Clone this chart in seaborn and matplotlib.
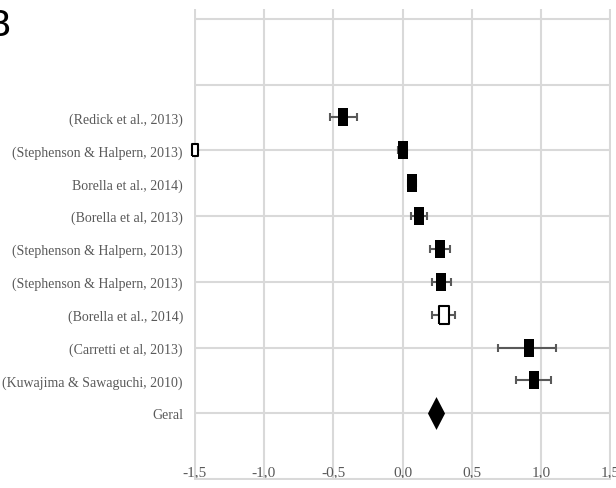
import numpy as np
import pandas as pd
import seaborn as sns
import matplotlib.pyplot as plt

# Studies listed top to bottom
studies = [
    "(Redick et al., 2013)",
    "(Stephenson & Halpern, 2013)",
    "Borella et al., 2014)",
    "(Borella et al, 2013)",
    "(Stephenson & Halpern, 2013)",
    "(Stephenson & Halpern, 2013)",
    "(Borella et al., 2014)",
    "(Carretti et al, 2013)",
    "(Kuwajima & Sawaguchi, 2010)",
]
effect = [-0.43, 0.00, 0.07, 0.12, 0.27, 0.28, 0.30, 0.91, 0.95]
ci_low = [-0.52, -0.03, 0.04, 0.06, 0.20, 0.21, 0.21, 0.69, 0.82]
ci_high = [-0.33, 0.03, 0.10, 0.18, 0.34, 0.35, 0.38, 1.11, 1.07]
hollow = [False, False, False, False, False, False, True, False, False]

# Off-scale estimate shown at the left edge of the scale (second study)
offscale_index = 1
offscale_effect = -1.50

overall_label = "Geral"
overall_effect = 0.24

x_ticks = [-1.5, -1.0, -0.5, 0.0, 0.5, 1.0, 1.5]
x_tick_labels = ["-1,5", "-1,0", "-0,5", "0,0", "0,5", "1,0", "1,5"]

sns.set_theme(style="white")
plt.rcParams["font.family"] = ["Liberation Serif", "DejaVu Serif"]

n = len(studies)
rows = np.arange(n + 2, 2, -1)          # 11 .. 3
overall_row = 2

df = pd.DataFrame({"study": studies, "effect": effect, "lo": ci_low,
                   "hi": ci_high, "hollow": hollow, "row": rows})

fig, ax = plt.subplots(figsize=(6.16, 4.89), dpi=100)
fig.subplots_adjust(left=194 / 616, right=611 / 616, top=1 - 10 / 489, bottom=1 - 481 / 489)

grid_col = "#d9d9d9"
ax.set_xlim(-1.505, 1.505)
ax.set_ylim(-0.03, 14.3)
ax.set_xticks(x_ticks)
ax.set_xticklabels(x_tick_labels)
ax.set_yticks(list(rows) + [overall_row])
ax.set_yticklabels(studies + [overall_label])
ax.set_yticks(np.arange(0, 15, 2), minor=True)
ax.yaxis.remove_overlapping_locs = False
ax.grid(False)
ax.xaxis.grid(True, which="major", color=grid_col, lw=1.5)
ax.yaxis.grid(True, which="minor", color=grid_col, lw=1.5)
ax.set_axisbelow(True)
for s in ax.spines.values():
    s.set_visible(False)
ax.tick_params(axis="y", which="both", length=0, pad=8, labelsize=10, labelcolor="#595959")
ax.tick_params(axis="x", which="both", length=0, pad=-11, labelsize=11, labelcolor="#595959")

# Confidence intervals
ax.errorbar(df["effect"], df["row"],
            xerr=[df["effect"] - df["lo"], df["hi"] - df["effect"]],
            fmt="none", ecolor="#595959", elinewidth=1.5, capsize=3.2,
            capthick=1.5, zorder=2)

rect = [(-0.28, -0.5), (0.28, -0.5), (0.28, 0.5), (-0.28, 0.5), (-0.28, -0.5)]
diamond = [(0, 0.5), (0.26, 0), (0, -0.5), (-0.26, 0), (0, 0.5)]

sns.scatterplot(data=df[~df["hollow"]], x="effect", y="row", marker=rect,
                s=170, color="black", linewidth=0, ax=ax, zorder=3)
sns.scatterplot(data=df[df["hollow"]], x="effect", y="row", marker=rect,
                s=150, facecolor="white", edgecolor="black", linewidth=1.5,
                ax=ax, zorder=3)

off = pd.DataFrame({"effect": [offscale_effect], "row": [rows[offscale_index]]})
sns.scatterplot(data=off, x="effect", y="row", marker=rect, s=75,
                facecolor="white", edgecolor="black", linewidth=1.5,
                ax=ax, zorder=4, clip_on=False)

summary = pd.DataFrame({"effect": [overall_effect], "row": [overall_row]})
sns.scatterplot(data=summary, x="effect", y="row", marker=diamond, s=560,
                color="black", linewidth=0, ax=ax, zorder=3)

ax.set_xlabel("")
ax.set_ylabel("")
if ax.get_legend():
    ax.get_legend().remove()

fig.text(-0.022, 1 - 26 / 489, "B", fontsize=26, va="center", ha="left",
         family="DejaVu Sans", color="black")

fig.savefig("out.png", dpi=100)
